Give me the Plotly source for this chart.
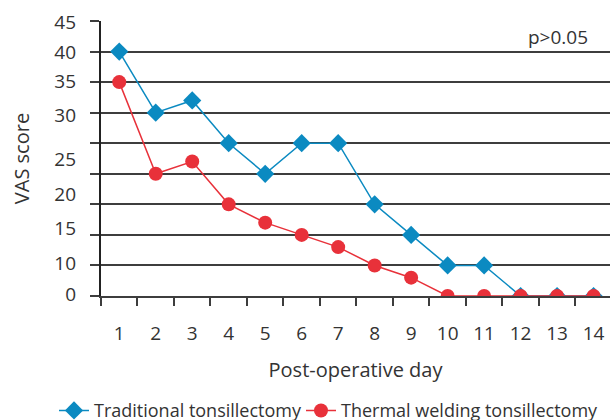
import plotly.graph_objects as go

days = [str(d) for d in range(1, 15)]
traditional = [40, 30, 32, 25, 20, 25, 25, 15, 10, 5, 5, 0, 0, 0]
thermal = [35, 20, 22, 15, 12, 10, 8, 5, 3, 0, 0, 0, 0, 0]

ytick_text = ["0", "10", "15", "20", "25", "30", "35", "40", "45"]
ytick_pos = [0.2, 5.4, 11.0, 16.7, 22.3, 29.5, 35.1, 39.9, 44.7]

BLUE = "#0b8ac1"
RED = "#e8313a"
TXT = "#333333"
GRID = "#3d3d3d"
FONT = "Open Sans"
FS = 19

fig = go.Figure()
fig.add_trace(go.Scatter(
    x=days, y=traditional, name="Traditional tonsillectomy",
    mode="lines+markers", line=dict(color=BLUE, width=1.5),
    marker=dict(symbol="diamond", size=14, color=BLUE),
    legend="legend",
))
fig.add_trace(go.Scatter(
    x=days, y=thermal, name="Thermal welding tonsillectomy",
    mode="lines+markers", line=dict(color=RED, width=1.5),
    marker=dict(symbol="circle", size=14, color=RED),
    legend="legend2",
))
# invisible trace to anchor the label axis
fig.add_trace(go.Scatter(x=days, y=thermal, yaxis="y2", mode="none",
                         showlegend=False, hoverinfo="skip"))

legend_common = dict(orientation="h", yref="container", y=0.022,
                     yanchor="middle", xref="container", xanchor="left",
                     font=dict(family=FONT, size=18, color=TXT),
                     bgcolor="rgba(0,0,0,0)", borderwidth=0)

fig.update_layout(
    width=610, height=420,
    margin=dict(l=101, r=0, t=21, b=124, autoexpand=False),
    paper_bgcolor="white", plot_bgcolor="white",
    font=dict(family=FONT, size=FS, color=TXT),
    showlegend=True,
    legend=dict(x=54 / 610, **legend_common),
    legend2=dict(x=301 / 610, **legend_common),
    xaxis=dict(
        type="category", range=[-0.5, 13.45],
        showline=True, linecolor=GRID, linewidth=1.5,
        ticks="outside", tickson="boundaries", ticklen=8, tickwidth=1.5,
        tickcolor=GRID, showgrid=False, zeroline=False,
        ticklabelstandoff=19,
        tickfont=dict(size=FS, color=TXT),
        title=dict(text="Post-operative day", standoff=18,
                   font=dict(size=20, color=TXT)),
    ),
    yaxis=dict(
        range=[0, 45], dtick=5, tick0=0,
        showgrid=True, gridcolor=GRID, gridwidth=1.5,
        showline=True, linecolor="#222222", linewidth=1.5,
        ticks="outside", ticklen=9, tickwidth=1.5, tickcolor=GRID,
        showticklabels=False, zeroline=False,
    ),
    yaxis2=dict(
        overlaying="y", side="left", range=[0, 45],
        tickmode="array", tickvals=ytick_pos, ticktext=ytick_text,
        showgrid=False, showline=False, zeroline=False,
        ticks="", ticklen=0, ticklabelstandoff=24,
        tickfont=dict(size=FS, color=TXT),
        title=dict(text="VAS score", standoff=19,
                   font=dict(size=20, color=TXT)),
    ),
    annotations=[dict(
        text="p>0.05", xref="paper", yref="paper", x=0.9607, y=0.942,
        xanchor="right", yanchor="middle", showarrow=False,
        font=dict(size=FS, color=TXT),
    )],
)

fig.write_html(
    "out.html",
    config={"displayModeBar": False},
    post_script="document.body.style.margin='0';document.body.style.overflow='hidden';",
)
